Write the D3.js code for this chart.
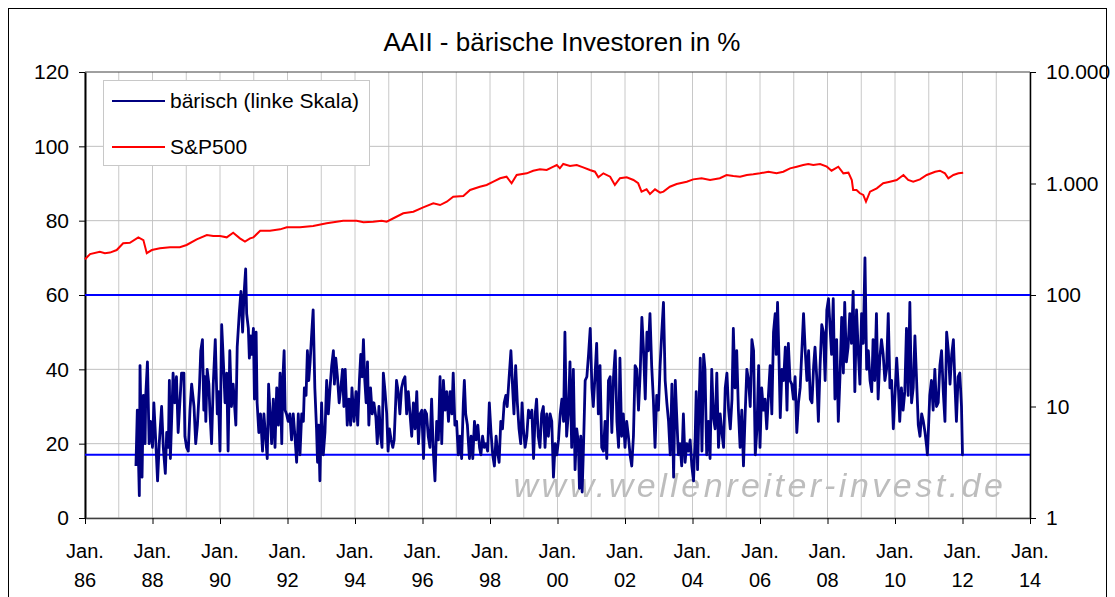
<!DOCTYPE html>
<html>
<head>
<meta charset="utf-8">
<script src="https://cdn.jsdelivr.net/npm/d3@7"></script>
<style>
  body { margin: 0; background: #fff; }
  svg text { font-family: Arial, "Liberation Sans", sans-serif; fill: #000; }
</style>
</head>
<body>
<div id="chart"></div>
<script>
// Achsen / Beschriftungen
const yTicks = [0, 20, 40, 60, 80, 100, 120];
const y2Ticks = [1, 10, 100, 1000, 10000];
const y2Labels = ["1", "10", "100", "1.000", "10.000"];
const xTickYears = [1986, 1988, 1990, 1992, 1994, 1996, 1998, 2000, 2002, 2004, 2006, 2008, 2010, 2012, 2014];
const refLevels = [60, 17];

// AAII bärisch (%), [Jahr, Wert]
const bearish = [
  [1987.51,14],[1987.55,29],[1987.61,6],[1987.63,41],[1987.69,11],[1987.73,33],[1987.78,20],[1987.80,33],[1987.85,42],[1987.90,20],[1987.94,26],
  [1988.00,19],[1988.04,31],[1988.10,20],[1988.15,10],[1988.20,20],[1988.27,30],[1988.32,19],[1988.38,12],[1988.42,23],[1988.47,19],[1988.50,37],
  [1988.53,16],[1988.58,30],[1988.61,39],[1988.66,31],[1988.71,38],[1988.76,23],[1988.81,31],[1988.86,39],[1988.93,39],[1988.96,22],
  [1989.01,19],[1989.06,18],[1989.11,29],[1989.16,36],[1989.23,30],[1989.28,20],[1989.33,25],[1989.39,35],[1989.43,45],[1989.48,48],[1989.52,29],
  [1989.55,38],[1989.58,26],[1989.62,40],[1989.67,36],[1989.70,29],[1989.75,20],[1989.80,36],[1989.86,48],[1989.92,28],[1989.95,34],
  [1990.00,18],[1990.05,52],[1990.10,42],[1990.15,31],[1990.20,39],[1990.24,18],[1990.29,45],[1990.34,30],[1990.39,36],[1990.47,25],[1990.51,46],
  [1990.57,55],[1990.62,61],[1990.67,50],[1990.71,60],[1990.76,67],[1990.79,55],[1990.84,51],[1990.87,43],[1990.91,49],[1990.94,44],[1990.99,51],
  [1991.02,32],[1991.07,50],[1991.10,31],[1991.15,23],[1991.20,28],[1991.26,18],[1991.30,28],[1991.35,22],[1991.40,16],[1991.44,36],
  [1991.53,20],[1991.58,32],[1991.63,19],[1991.68,35],[1991.73,25],[1991.78,39],[1991.83,20],[1991.86,37],[1991.90,45],[1991.93,29],[1991.97,28],
  [1992.02,26],[1992.07,28],[1992.12,21],[1992.17,28],[1992.22,22],[1992.27,15],[1992.32,28],[1992.37,17],[1992.42,28],[1992.47,26],[1992.50,35],
  [1992.55,33],[1992.59,45],[1992.63,37],[1992.67,42],[1992.72,50],[1992.76,56],[1992.81,35],[1992.86,24],[1992.89,15],[1992.92,25],[1992.96,10],
  [1993.01,31],[1993.06,17],[1993.11,23],[1993.16,37],[1993.21,28],[1993.26,35],[1993.31,41],[1993.36,45],[1993.39,36],[1993.43,43],[1993.48,38],
  [1993.53,31],[1993.58,35],[1993.63,40],[1993.67,30],[1993.71,40],[1993.77,25],[1993.82,32],[1993.87,25],[1993.91,35],[1993.97,26],
  [1994.03,34],[1994.08,25],[1994.13,37],[1994.17,44],[1994.21,38],[1994.25,48],[1994.29,37],[1994.33,31],[1994.37,42],[1994.41,25],[1994.46,35],
  [1994.51,28],[1994.56,31],[1994.62,27],[1994.66,20],[1994.71,30],[1994.76,22],[1994.80,19],[1994.84,39],[1994.89,34],[1994.94,28],[1994.98,18],
  [1995.02,24],[1995.07,21],[1995.12,19],[1995.16,21],[1995.20,30],[1995.23,37],[1995.28,34],[1995.33,28],[1995.38,35],[1995.43,37],[1995.48,38],
  [1995.53,28],[1995.58,34],[1995.68,22],[1995.73,31],[1995.78,24],[1995.83,34],[1995.88,20],[1995.93,28],[1995.98,29],
  [1996.03,16],[1996.07,29],[1996.12,28],[1996.17,22],[1996.22,19],[1996.27,32],[1996.32,18],[1996.37,10],[1996.42,26],[1996.47,21],[1996.52,38],
  [1996.57,20],[1996.62,37],[1996.67,29],[1996.72,34],[1996.77,26],[1996.82,34],[1996.87,28],[1996.91,39],[1996.96,25],
  [1997.01,26],[1997.06,17],[1997.11,22],[1997.16,16],[1997.21,31],[1997.24,37],[1997.28,28],[1997.33,25],[1997.39,16],[1997.44,22],[1997.49,16],
  [1997.54,26],[1997.59,21],[1997.64,25],[1997.69,19],[1997.73,17],[1997.78,22],[1997.83,19],[1997.88,20],[1997.93,18],[1997.98,31],
  [1998.03,23],[1998.08,17],[1998.13,14],[1998.18,22],[1998.22,18],[1998.27,15],[1998.32,26],[1998.37,24],[1998.42,31],[1998.47,33],[1998.51,30],
  [1998.56,37],[1998.62,45],[1998.67,35],[1998.71,28],[1998.76,41],[1998.81,31],[1998.86,24],[1998.91,20],[1998.95,31],[1998.99,24],
  [1999.04,19],[1999.09,22],[1999.14,29],[1999.19,27],[1999.24,29],[1999.29,16],[1999.34,28],[1999.38,32],[1999.43,22],[1999.48,19],[1999.53,28],
  [1999.58,30],[1999.63,19],[1999.68,28],[1999.73,22],[1999.78,28],[1999.83,26],[1999.88,11],[1999.93,20],[1999.98,17],
  [2000.03,21],[2000.08,28],[2000.13,32],[2000.18,26],[2000.22,50],[2000.27,22],[2000.32,28],[2000.37,42],[2000.42,19],[2000.47,40],[2000.52,13],
  [2000.57,24],[2000.62,20],[2000.65,8],[2000.69,22],[2000.73,7],[2000.77,19],[2000.82,37],[2000.87,38],[2000.92,44],[2000.97,51],
  [2001.02,35],[2001.06,30],[2001.11,38],[2001.16,47],[2001.21,28],[2001.26,41],[2001.31,19],[2001.36,18],[2001.41,26],[2001.46,16],[2001.51,37],
  [2001.56,38],[2001.61,23],[2001.66,38],[2001.71,45],[2001.76,26],[2001.81,19],[2001.85,43],[2001.90,22],[2001.95,28],
  [2002.00,19],[2002.05,26],[2002.10,22],[2002.15,17],[2002.20,14],[2002.25,22],[2002.30,41],[2002.35,40],[2002.40,29],[2002.45,39],[2002.50,54],
  [2002.55,45],[2002.60,32],[2002.65,50],[2002.69,45],[2002.74,55],[2002.79,41],[2002.84,32],[2002.89,19],[2002.94,33],[2002.99,29],
  [2003.04,41],[2003.09,50],[2003.14,58],[2003.19,37],[2003.24,31],[2003.29,26],[2003.34,17],[2003.39,36],[2003.44,11],[2003.49,37],[2003.53,28],
  [2003.58,17],[2003.63,20],[2003.68,14],[2003.73,28],[2003.78,15],[2003.83,20],[2003.88,18],[2003.93,21],[2003.98,14],
  [2004.03,10],[2004.08,22],[2004.11,34],[2004.15,13],[2004.19,29],[2004.23,43],[2004.28,18],[2004.33,44],[2004.37,40],[2004.42,17],[2004.47,26],
  [2004.52,16],[2004.57,40],[2004.62,27],[2004.67,24],[2004.72,39],[2004.77,19],[2004.82,28],[2004.87,23],[2004.92,19],[2004.97,35],
  [2005.02,39],[2005.07,29],[2005.12,24],[2005.17,32],[2005.21,51],[2005.26,35],[2005.31,45],[2005.36,29],[2005.41,19],[2005.46,29],[2005.51,14],
  [2005.56,28],[2005.61,40],[2005.66,37],[2005.71,30],[2005.76,48],[2005.81,45],[2005.86,17],[2005.91,24],[2005.96,41],
  [2006.00,19],[2006.05,35],[2006.10,29],[2006.15,32],[2006.20,24],[2006.25,33],[2006.30,41],[2006.35,28],[2006.40,50],[2006.45,55],[2006.48,44],
  [2006.52,58],[2006.56,44],[2006.60,27],[2006.65,40],[2006.70,37],[2006.75,46],[2006.80,29],[2006.84,47],[2006.89,37],[2006.94,36],[2006.99,32],
  [2007.04,38],[2007.09,23],[2007.14,31],[2007.19,35],[2007.24,45],[2007.29,55],[2007.34,45],[2007.39,37],[2007.44,45],[2007.49,32],[2007.54,31],
  [2007.59,41],[2007.63,46],[2007.68,38],[2007.73,26],[2007.78,41],[2007.83,52],[2007.88,50],[2007.93,37],[2007.98,56],
  [2008.03,59],[2008.12,44],[2008.17,59],[2008.22,32],[2008.27,48],[2008.32,26],[2008.37,38],[2008.42,54],[2008.47,39],[2008.51,58],[2008.56,42],
  [2008.61,46],[2008.66,55],[2008.71,47],[2008.76,61],[2008.81,34],[2008.86,56],[2008.91,45],[2008.96,36],
  [2009.01,55],[2009.06,47],[2009.11,70],[2009.16,40],[2009.21,45],[2009.26,37],[2009.31,34],[2009.35,48],[2009.40,37],[2009.45,55],[2009.50,32],
  [2009.55,43],[2009.60,48],[2009.65,44],[2009.70,37],[2009.75,40],[2009.80,55],[2009.85,35],[2009.90,37],[2009.95,24],
  [2010.00,33],[2010.05,43],[2010.10,35],[2010.14,26],[2010.19,35],[2010.24,29],[2010.29,34],[2010.34,51],[2010.39,33],[2010.44,58],[2010.49,31],
  [2010.54,35],[2010.59,49],[2010.64,37],[2010.69,25],[2010.74,22],[2010.79,28],[2010.84,26],[2010.89,23],[2010.94,19],[2010.96,17],
  [2011.00,26],[2011.03,33],[2011.08,37],[2011.13,29],[2011.18,40],[2011.23,30],[2011.28,31],[2011.33,41],[2011.38,45],[2011.43,34],[2011.48,26],
  [2011.53,50],[2011.58,45],[2011.63,36],[2011.68,44],[2011.73,48],[2011.78,35],[2011.82,26],[2011.87,38],[2011.92,39],[2011.97,30],
  [2012.00,17],[2012.03,17]
];

// S&P500 (rechte, log. Skala), [Jahr, Punkte]
const spx = [
  [1986.00,209],[1986.15,233],[1986.44,244],[1986.59,237],[1986.74,240],[1986.94,253],[1987.13,291],[1987.33,294],[1987.58,329],[1987.73,311],
  [1987.83,237],[1987.98,253],[1988.22,262],[1988.52,268],[1988.81,268],[1989.01,281],[1989.31,316],[1989.61,345],[1989.80,338],[1990.00,338],
  [1990.20,329],[1990.39,362],[1990.59,322],[1990.74,301],[1990.89,322],[1990.99,329],[1991.19,377],[1991.48,377],[1991.78,388],[1991.98,405],
  [1992.37,405],[1992.76,416],[1993.16,440],[1993.65,464],[1994.05,464],[1994.25,449],[1994.54,455],[1994.79,464],[1994.94,455],[1995.14,488],
  [1995.43,541],[1995.73,559],[1996.02,611],[1996.32,664],[1996.52,641],[1996.72,687],[1996.91,762],[1997.21,773],[1997.41,875],[1997.70,936],
  [1997.90,970],[1998.10,1038],[1998.30,1114],[1998.49,1151],[1998.64,1005],[1998.79,1192],[1999.09,1234],[1999.28,1302],[1999.48,1340],
  [1999.68,1321],[1999.88,1415],[1999.98,1465],[2000.07,1368],[2000.17,1496],[2000.37,1436],[2000.57,1465],[2000.76,1397],[2000.96,1321],
  [2001.11,1276],[2001.21,1137],[2001.36,1234],[2001.56,1151],[2001.70,970],[2001.85,1114],[2002.05,1137],[2002.25,1075],[2002.39,1005],
  [2002.49,845],[2002.64,887],[2002.74,805],[2002.89,887],[2003.04,828],[2003.14,845],[2003.33,936],[2003.53,990],[2003.83,1038],[2004.02,1089],
  [2004.27,1114],[2004.52,1075],[2004.81,1114],[2005.01,1192],[2005.21,1167],[2005.41,1151],[2005.61,1192],[2005.80,1209],[2006.00,1234],
  [2006.25,1276],[2006.49,1234],[2006.69,1276],[2006.89,1368],[2007.09,1415],[2007.28,1465],[2007.43,1496],[2007.58,1465],[2007.78,1496],
  [2007.98,1415],[2008.12,1302],[2008.32,1415],[2008.47,1234],[2008.62,1250],[2008.72,1075],[2008.76,875],[2008.86,875],[2008.96,817],
  [2009.06,789],[2009.14,687],[2009.26,845],[2009.46,906],[2009.65,1005],[2009.85,1038],[2010.05,1075],[2010.25,1192],[2010.39,1075],
  [2010.54,1038],[2010.74,1089],[2010.94,1192],[2011.19,1276],[2011.33,1302],[2011.48,1234],[2011.58,1114],[2011.73,1192],[2011.88,1234],
  [2012.02,1250]
];

// Zeichenfläche
const W = 1115, H = 597;
const plot = {left: 85, right: 1030, top: 72, bottom: 518};
const fontFamily = "Arial, 'Liberation Sans', sans-serif";

const svg = d3.select("#chart")
    .append("svg")
    .attr("width", W)
    .attr("height", H);

const defs = svg.append("defs");
defs.append("filter")
    .attr("id", "soft")
    .append("feGaussianBlur")
    .attr("stdDeviation", 0.7);

svg.append("rect")
    .attr("x", 8.5).attr("y", 8.5)
    .attr("width", 1098).attr("height", 620)
    .attr("fill", "#fff")
    .attr("stroke", "#000")
    .attr("stroke-width", 1);

// Skalen
const x = d3.scaleLinear().domain([1986, 2014]).range([plot.left, plot.right]);
const y = d3.scaleLinear().domain([0, 120]).range([plot.bottom, plot.top]);
const y2 = d3.scaleLog().domain([1, 10000]).range([plot.bottom, plot.top]);

// Gitternetz
svg.append("g")
    .selectAll("line")
    .data(d3.range(1986, 2015))
    .join("line")
    .attr("x1", d => x(d)).attr("x2", d => x(d))
    .attr("y1", plot.top).attr("y2", plot.bottom)
    .attr("stroke", "#c8c8c8")
    .attr("stroke-width", 1);

svg.append("g")
    .selectAll("line")
    .data(yTicks)
    .join("line")
    .attr("x1", plot.left).attr("x2", plot.right)
    .attr("y1", d => y(d)).attr("y2", d => y(d))
    .attr("stroke", d => d === 120 ? "#404040" : "#c0c0c0")
    .attr("stroke-width", 1);

// Wasserzeichen
svg.append("text")
    .attr("x", 760).attr("y", 497)
    .attr("text-anchor", "middle")
    .attr("font-size", 34)
    .attr("font-style", "italic")
    .attr("letter-spacing", 3.5)
    .attr("filter", "url(#soft)")
    .style("fill", "#bdbdbd")
    .text("www.wellenreiter-invest.de");

// Achsen
const leftAxis = svg.append("g")
    .attr("transform", `translate(${plot.left},0)`)
    .call(d3.axisLeft(y).tickValues(yTicks).tickSize(6).tickSizeOuter(0).tickPadding(10));

const rightAxis = svg.append("g")
    .attr("transform", `translate(${plot.right},0)`)
    .call(d3.axisRight(y2).tickValues(y2Ticks).tickSize(6).tickSizeOuter(0).tickPadding(10)
        .tickFormat((d, i) => y2Labels[i]));

const bottomAxis = svg.append("g")
    .attr("transform", `translate(0,${plot.bottom})`)
    .call(d3.axisBottom(x).tickValues(xTickYears).tickSize(6).tickSizeOuter(0).tickFormat(""));

[leftAxis, rightAxis].forEach(g => {
    g.selectAll("text").attr("font-size", 21).style("font-family", fontFamily);
});
leftAxis.select(".domain").attr("stroke-width", 2);
rightAxis.select(".domain").attr("stroke-width", 1.5);
bottomAxis.select(".domain").attr("stroke", "#404040").attr("stroke-width", 1.5);

const xLabels = svg.append("g")
    .selectAll("text")
    .data(xTickYears)
    .join("text")
    .attr("text-anchor", "middle")
    .attr("font-size", 20);
xLabels.append("tspan")
    .attr("x", d => x(d)).attr("y", 558)
    .text("Jan.");
xLabels.append("tspan")
    .attr("x", d => x(d)).attr("y", 587)
    .text(d => String(d % 100).padStart(2, "0"));

// Referenzlinien
svg.append("g")
    .selectAll("line")
    .data(refLevels)
    .join("line")
    .attr("x1", plot.left).attr("x2", plot.right)
    .attr("y1", d => y(d)).attr("y2", d => y(d))
    .attr("stroke", "#0000ff")
    .attr("stroke-width", 2);

// Linien
const bearLine = d3.line()
    .x(d => x(d[0]))
    .y(d => y(d[1]));

const spxLine = d3.line()
    .x(d => x(d[0]))
    .y(d => y2(d[1]));

svg.append("path")
    .datum(bearish)
    .attr("fill", "none")
    .attr("stroke", "#000080")
    .attr("stroke-width", 2.8)
    .attr("stroke-linejoin", "round")
    .attr("d", bearLine);

svg.append("path")
    .datum(spx)
    .attr("fill", "none")
    .attr("stroke", "#ff0000")
    .attr("stroke-width", 2)
    .attr("d", spxLine);

// Legende
const legend = svg.append("g");
legend.append("rect")
    .attr("x", 103.5).attr("y", 80.5)
    .attr("width", 266).attr("height", 85)
    .attr("fill", "#fff")
    .attr("stroke", "#c8c8c8");

const legendItems = [
    {label: "bärisch (linke Skala)", color: "#000080", y: 101},
    {label: "S&P500", color: "#ff0000", y: 147}
];
legendItems.forEach(it => {
    legend.append("line")
        .attr("x1", 112).attr("x2", 165)
        .attr("y1", it.y).attr("y2", it.y)
        .attr("stroke", it.color)
        .attr("stroke-width", 2);
    legend.append("text")
        .attr("x", 170).attr("y", it.y)
        .attr("dy", "0.35em")
        .attr("font-size", 21)
        .text(it.label);
});

// Titel
svg.append("text")
    .attr("x", 562).attr("y", 42)
    .attr("dy", "0.35em")
    .attr("text-anchor", "middle")
    .attr("font-size", 26)
    .text("AAII - bärische Investoren in %");
</script>
</body>
</html>
